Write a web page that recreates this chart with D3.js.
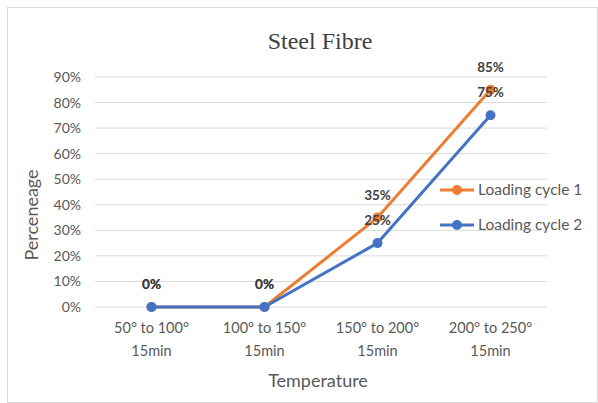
<!DOCTYPE html>
<html><head><meta charset="utf-8">
<script src="https://cdn.jsdelivr.net/npm/d3@7"></script>
<style>body{margin:0;background:#fff}svg{display:block}</style>
</head><body>
<svg id="c" width="598" height="403"></svg>
<script>
const categories = [["50° to 100°","15min"],["100° to 150°","15min"],["150° to 200°","15min"],["200° to 250°","15min"]];
const cycle1 = [0, 0, 35, 85];
const cycle2 = [0, 0, 25, 75];
const seriesNames = ["Loading cycle 1", "Loading cycle 2"];
const yTicks = [0,10,20,30,40,50,60,70,80,90];

const W=598,H=403;
const m={l:95,r:51,t:77,b:96};
const svg=d3.select("#c");
const font="Lato, 'Noto Sans', sans-serif";
svg.append("rect").attr("x",7.5).attr("y",7.5).attr("width",W-8).attr("height",H-8).attr("fill","#fff").attr("stroke","#d9d9d9");

const x=d3.scaleBand().domain(d3.range(categories.length)).range([m.l,W-m.r]);
const y=d3.scaleLinear().domain([0,90]).range([H-m.b,m.t]);

const g=svg.append("g");
g.selectAll("line.grid").data(yTicks).join("line")
 .attr("x1",m.l).attr("x2",W-m.r).attr("y1",d=>y(d)).attr("y2",d=>y(d))
 .attr("stroke","#d9d9d9").attr("stroke-width",1);
const ya=d3.axisLeft(y).tickValues(yTicks).tickFormat(d=>d+"%").tickSize(0).tickPadding(14);
const yg=svg.append("g").attr("transform",`translate(${m.l},0)`).call(ya);
yg.select(".domain").remove();
yg.selectAll("text").attr("fill","#595959").style("font-family",font).style("font-size","14px");
const xa=d3.axisBottom(x).tickFormat(()=>"").tickSize(0);
const xg=svg.append("g").attr("transform",`translate(0,${H-m.b})`).call(xa);
xg.select(".domain").remove();
xg.selectAll(".tick").each(function(d){
  const t=d3.select(this).append("text").attr("fill","#595959").style("font-family",font).style("font-size","14.5px").attr("text-anchor","middle");
  t.append("tspan").attr("x",0).attr("y",26).text(categories[d][0]);
  t.append("tspan").attr("x",0).attr("y",49).text(categories[d][1]);
});

const colors=["#ED7D31","#4472C4"];
const data=[cycle1,cycle2];
const line=d3.line().x((d,i)=>x(i)+x.bandwidth()/2).y(d=>y(d));
data.forEach((s,k)=>{
  g.append("path").datum(s).attr("d",line).attr("fill","none").attr("stroke",colors[k]).attr("stroke-width",3).attr("stroke-linejoin","round");
  g.selectAll(null).data(s).join("circle").attr("cx",(d,i)=>x(i)+x.bandwidth()/2).attr("cy",d=>y(d)).attr("r",5).attr("fill",colors[k]);
});
data.forEach((s,k)=>{
  g.selectAll(null).data(s).join("text").attr("x",(d,i)=>x(i)+x.bandwidth()/2).attr("y",d=>y(d)-18)
   .attr("text-anchor","middle").attr("fill","#404040").style("font-family",font).style("font-size","13.5px").style("font-weight","bold").text(d=>d+"%");
});

seriesNames.forEach((n,k)=>{
  const ly=190+k*35;
  svg.append("line").attr("x1",440).attr("x2",474).attr("y1",ly).attr("y2",ly).attr("stroke",colors[k]).attr("stroke-width",3);
  svg.append("circle").attr("cx",457).attr("cy",ly).attr("r",5).attr("fill",colors[k]);
  svg.append("text").attr("x",478).attr("y",ly+5).attr("fill","#595959").style("font-family",font).style("font-size","15.5px").text(n);
});

svg.append("text").attr("x",320).attr("y",49).attr("text-anchor","middle").attr("fill","#404040").style("font-family","'Liberation Serif', 'DejaVu Serif', serif").style("font-size","24px").text("Steel Fibre");
svg.append("text").attr("transform","translate(38,215) rotate(-90)").attr("text-anchor","middle").attr("fill","#595959").style("font-family",font).style("font-size","18px").text("Perceneage");
svg.append("text").attr("x",318).attr("y",387).attr("text-anchor","middle").attr("fill","#595959").style("font-family",font).style("font-size","18px").text("Temperature");
</script>
</body></html>
